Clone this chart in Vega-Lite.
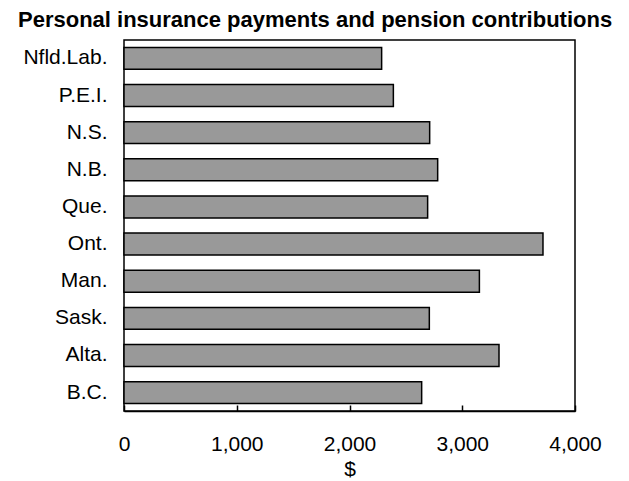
{
  "$schema": "https://vega.github.io/schema/vega-lite/v6.json",
  "width": 451,
  "height": 371,
  "autosize": "none",
  "padding": {"left": 124, "top": 40, "right": 54, "bottom": 70},
  "background": "white",
  "config": {
    "font": "Liberation Sans",
    "view": {"stroke": "black", "strokeWidth": 1.5},
    "axis": {"grid": false, "labelColor": "black", "titleColor": "black", "domainColor": "black", "tickColor": "black"}
  },
  "title": {
    "text": "Personal insurance payments and pension contributions",
    "fontSize": 22,
    "fontWeight": "bold",
    "font": "Liberation Sans",
    "color": "black",
    "anchor": "start",
    "frame": "group",
    "dx": -106,
    "dy": 22,
    "baseline": "alphabetic",
    "offset": 13
  },
  "data": {
    "values": [
      {"province": "Nfld.Lab.", "value": 2285},
      {"province": "P.E.I.", "value": 2389},
      {"province": "N.S.", "value": 2711},
      {"province": "N.B.", "value": 2782},
      {"province": "Que.", "value": 2693},
      {"province": "Ont.", "value": 3716},
      {"province": "Man.", "value": 3152},
      {"province": "Sask.", "value": 2708},
      {"province": "Alta.", "value": 3326},
      {"province": "B.C.", "value": 2640}
    ]
  },
  "mark": {"type": "bar", "fill": "#999999", "stroke": "black", "strokeWidth": 1.5},
  "encoding": {
    "y": {
      "field": "province",
      "type": "nominal",
      "sort": null,
      "scale": {"paddingInner": 0.41, "paddingOuter": 0.2},
      "axis": {"title": null, "ticks": false, "domain": false, "labelFontSize": 21, "labelPadding": 17}
    },
    "x": {
      "field": "value",
      "type": "quantitative",
      "scale": {"domain": [0, 4000], "nice": false},
      "axis": {
        "values": [0, 1000, 2000, 3000, 4000],
        "format": ",d",
        "title": "$",
        "titleFontSize": 21,
        "titleFontWeight": "normal",
        "titlePadding": 4,
        "labelFontSize": 21,
        "tickSize": -6,
        "tickWidth": 1.5,
        "domainWidth": 1.5,
        "labelPadding": 28,
        "labelFlush": false
      }
    }
  }
}
